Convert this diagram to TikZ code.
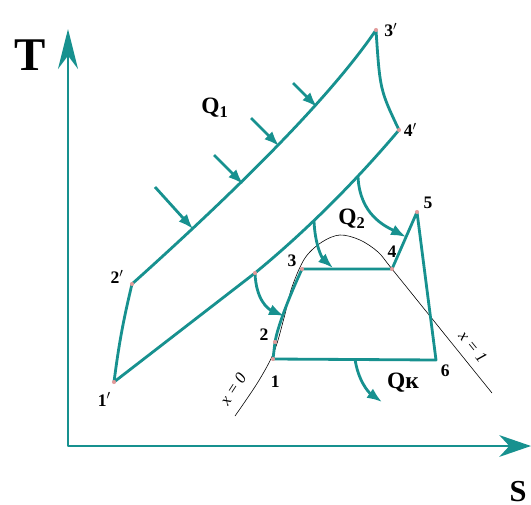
\documentclass[tikz,border=0pt]{standalone}
\usepackage{fontspec}
\setmainfont{Liberation Serif}
\usetikzlibrary{positioning,arrows.meta}
\definecolor{cycteal}{HTML}{17918F}
\definecolor{dotpink}{HTML}{E39A9A}

\begin{document}
\begin{tikzpicture}[
    x=0.03cm, y=-0.03cm,
    cyc/.style={draw=cycteal, line width=2.4pt, line join=round},
    heat/.style={cyc, -{Latex[length=4.5mm,width=3.4mm]}},
    dome/.style={draw=black, line width=0.5pt},
    lbl/.style={font=\bfseries\fontsize{15}{15}\selectfont, inner sep=0pt},
    qlbl/.style={font=\bfseries\fontsize{20}{20}\selectfont, inner sep=0pt},
    xlbl/.style={font=\itshape\fontsize{14}{14}\selectfont, inner sep=0pt},
    pnt/.style={circle, fill=dotpink, inner sep=0pt, minimum size=3.5pt}
]
\useasboundingbox (0,0) rectangle (531,505);

% axes
\coordinate (o) at (68,446);
\coordinate (ttop) at (68,29);
\coordinate (send) at (531,446);
\draw[cyc, {Stealth[length=12mm,width=6mm,inset=4mm]}-{Stealth[length=9.5mm,width=6.5mm,inset=3mm]}] (ttop) -- (o) -- (send);
\node[font=\bfseries\fontsize{40}{40}\selectfont, inner sep=0pt] (tlab) at (30,55) {T};
\node[font=\bfseries\fontsize{26}{26}\selectfont, inner sep=0pt] (slab) at (518,492) {S};

% saturation dome
\draw[dome] plot[smooth, tension=0.55] coordinates {(235,416) (258,382) (274,352) (284,318) (292,287) (305,258) (322,242) (340,235) (360,240) (378,252) (392,269) (442,331) (492,393)};
\node[xlbl, rotate=57] (x0) at (233,389) {x = 0};
\node[xlbl, rotate=-51] (x1) at (473,347) {x = 1};

% upper cycle
\coordinate (t1) at (114,382);
\coordinate (t2) at (132,284);
\coordinate (t3) at (376,30);
\coordinate (t4) at (399,130);
\coordinate (j) at (255,273);
\draw[cyc] (t1) to[bend left=3] (t2) .. controls (220,205) and (325,105) .. (t3)
    .. controls (380,90) .. (t4) .. controls (350,188) and (300,236) .. (j) -- cycle;

% lower cycle
\coordinate (b1) at (273,359);
\coordinate (b2) at (275,342);
\coordinate (b3) at (302,269);
\coordinate (b4) at (392,269);
\coordinate (b5) at (417,212);
\coordinate (b6) at (436,360);
\draw[cyc] (b1) -- (b6) -- (b5) -- (b4) -- (b3) .. controls (290,295) and (278,325) .. (b2) -- cycle;

% heat in
\coordinate (in1) at (155,187); \coordinate (on1) at (193,229);
\coordinate (in2) at (214,155); \coordinate (on2) at (243,184);
\coordinate (in3) at (251,118); \coordinate (on3) at (279,146);
\coordinate (in4) at (293,83);  \coordinate (on4) at (317,107);
\draw[heat] (in1) -- (on1);
\draw[heat] (in2) -- (on2);
\draw[heat] (in3) -- (on3);
\draw[heat] (in4) -- (on4);
\node[qlbl] (q1) at (215,108) {Q\textsubscript{1}};

% heat passed down
\coordinate (m1) at (314,221); \coordinate (r3) at (333,268);
\coordinate (m2) at (358,177); \coordinate (r4) at (406,237);
\coordinate (r2) at (284,316);
\draw[heat] (j) .. controls (256,300) and (268,309) .. (r2);
\draw[heat] (m1) .. controls (315,245) and (322,258) .. (r3);
\draw[heat] (m2) .. controls (360,215) and (385,226) .. (r4);
\node[qlbl] (q2) at (352,219) {Q\textsubscript{2}};

% heat out
\coordinate (k0) at (355,359); \coordinate (k1) at (382,402);
\draw[heat] (k0) .. controls (358,380) and (368,392) .. (k1);
\node[qlbl] (qk) at (403,383) {Qк};

% state points
\foreach \p in {t1,t2,t3,t4,j,b1,b2,b3,b4,b5}
    \node[pnt] at (\p) {};

\node[lbl, below left=9pt and 2.5pt of t1] {1$^{\prime}$};
\node[lbl, above left=0.5pt and 7pt of t2] {2$^{\prime}$};
\node[lbl, right=7pt of t3] {3$^{\prime}$};
\node[lbl, right=4pt of t4] {4$^{\prime}$};
\node[lbl, below=14pt of b1, xshift=2pt] {1};
\node[lbl, above left=1pt and 5.5pt of b2] {2};
\node[lbl, above left=1.5pt and 4.5pt of b3] {3};
\node[lbl, above=10pt of b4] {4};
\node[lbl, above right=2.5pt and 5.5pt of b5] {5};
\node[lbl, below right=4pt and 4pt of b6] {6};

\end{tikzpicture}
\end{document}
